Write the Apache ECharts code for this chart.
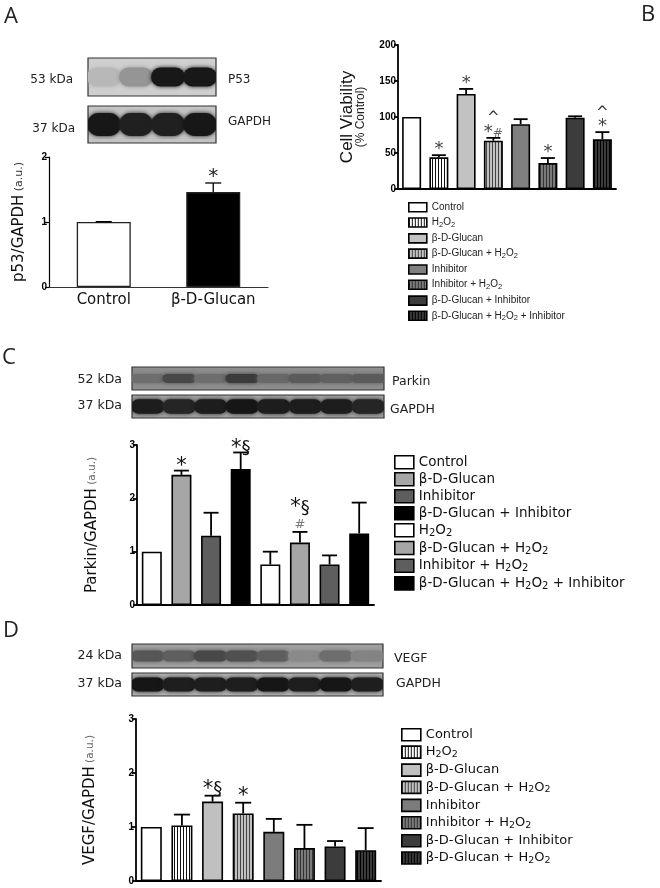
<!DOCTYPE html>
<html>
<head>
<meta charset="utf-8">
<script src="https://cdn.jsdelivr.net/npm/echarts@6/dist/echarts.min.js"></script>
<style>
  html, body { margin: 0; padding: 0; background: #fff; }
  #fig { width: 660px; height: 888px; }
</style>
</head>
<body>
<div id="fig"></div>
<script>
// ---- data ----
// A: p53/GAPDH
const catsA = ['Control', 'β-D-Glucan'];
const meanA = [1.0, 1.46];
const upA = [1.005, 1.6];
const marksA = ['', '*'];
const ticksA = [0, 1, 2];

// B: cell viability (% control)
const namesB = ['Control', 'H2O2', 'β-D-Glucan', 'β-D-Glucan + H2O2', 'Inhibitor',
  'Inhibitor + H2O2', 'β-D-Glucan + Inhibitor', 'β-D-Glucan + H2O2 + Inhibitor'];
const meanB = [100, 44, 132, 67, 90, 36, 99, 69];
const upB = [100, 47, 139, 71, 97, 43, 101, 79];
const marksB = ['', '*', '*', '^\n*#', '', '*', '', '^\n*'];
const ticksB = [0, 50, 100, 150, 200];

// C: Parkin/GAPDH
const namesC = ['Control', 'β-D-Glucan', 'Inhibitor', 'β-D-Glucan + Inhibitor', 'H2O2',
  'β-D-Glucan + H2O2', 'Inhibitor + H2O2', 'β-D-Glucan + H2O2 + Inhibitor'];
const meanC = [1.0, 2.44, 1.3, 2.55, 0.76, 1.17, 0.76, 1.34];
const upC = [1.0, 2.52, 1.73, 2.86, 1.0, 1.37, 0.93, 1.92];
const marksC = ['', '*', '', '*§', '', '*§\n#', '', ''];
const ticksC = [0, 1, 2, 3];

// D: VEGF/GAPDH
const namesD = ['Control', 'H2O2', 'β-D-Glucan', 'β-D-Glucan + H2O2', 'Inhibitor',
  'Inhibitor + H2O2', 'β-D-Glucan + Inhibitor', 'β-D-Glucan + H2O2'];
const meanD = [1.0, 1.03, 1.47, 1.25, 0.91, 0.61, 0.64, 0.57];
const upD = [1.0, 1.23, 1.58, 1.45, 1.15, 1.04, 0.74, 0.98];
const marksD = ['', '', '*§', '*', '', '', '', ''];
const ticksD = [0, 1, 2, 3];

// western blot band intensities per lane (0..1)
const blotP53 = [0.12, 0.3, 0.95, 0.95];
const blotGapdhA = [0.95, 0.9, 0.9, 0.95];
const blotParkin = [0.25, 0.55, 0.25, 0.65, 0.3, 0.4, 0.35, 0.4];
const blotGapdhC = [0.9, 0.85, 0.9, 0.95, 0.9, 0.9, 0.9, 0.85];
const blotVegf = [0.5, 0.45, 0.6, 0.55, 0.45, 0.15, 0.35, 0.2];
const blotGapdhD = [0.95, 0.9, 0.9, 0.9, 0.95, 0.9, 0.95, 0.9];

// ---- styling helpers ----
const SANS = 'DejaVu Sans';
const ARIAL = 'Liberation Sans';

function stripes(bg, line) {
  const c = document.createElement('canvas');
  c.width = 3; c.height = 4;
  const g = c.getContext('2d');
  g.fillStyle = bg; g.fillRect(0, 0, 3, 4);
  g.fillStyle = line || '#111'; g.fillRect(0, 0, 1, 4);
  return { image: c, repeat: 'repeat' };
}

const fillA = ['#ffffff', '#000000'];
const fillB = ['#ffffff', stripes('#ffffff'), '#c2c2c2', stripes('#c2c2c2', '#444'), '#808080',
  stripes('#7a7a7a', '#333'), '#3c3c3c', stripes('#3a3a3a', '#000')];
const fillC = ['#ffffff', '#a6a6a6', '#5e5e5e', '#000000', '#ffffff', '#a6a6a6', '#5e5e5e', '#000000'];
const fillD = ['#ffffff', stripes('#ffffff'), '#c0c0c0', stripes('#c0c0c0', '#444'), '#7c7c7c',
  stripes('#7a7a7a', '#333'), '#3c3c3c', stripes('#3a3a3a', '#000')];

// subscripts for H2O2
function sub(s) {
  return s.split(/(H2O2)/).map(p => p === 'H2O2' ? '{n|H}{s|2}{n|O}{s|2}' : (p ? '{n|' + p + '}' : '')).join('');
}
function markText(s) {
  const key = { '*': 'st', '§': 'sec', '#': 'hash', '^': 'car' };
  return s.split('\n').map(l => l.split('').map(ch => '{' + key[ch] + '|' + ch + '}').join('')).join('\n');
}

const labelOf = {};

// ---- layout ----
const blotBg = [207, 196, 142, 164, 160, 178];
const blotBox = [
  [88, 58, 128, 38], [88, 106, 128, 37],
  [132, 367, 252, 23], [132, 395, 252, 23],
  [132, 644, 251, 24], [132, 673, 251, 23]
];
const grids = [
  { left: 49, top: 157, width: 219, height: 130 },   // A
  { left: 398, top: 45, width: 218, height: 144 },   // B
  { left: 137, top: 445, width: 237, height: 160 },  // C
  { left: 136, top: 719, width: 245, height: 162 }   // D
].concat(blotBox.map((b, k) => ({
  left: b[0], top: b[1], width: b[2], height: b[3], show: true,
  backgroundColor: 'rgb(' + blotBg[k] + ',' + blotBg[k] + ',' + blotBg[k] + ')',
  borderColor: '#333', borderWidth: 1.2
})));
const blots = [blotP53, blotGapdhA, blotParkin, blotGapdhC, blotVegf, blotGapdhD];
const bandFrac = [0.5, 0.62, 0.4, 0.62, 0.45, 0.6];

function catAxis(gi, n, extra) {
  return Object.assign({
    type: 'category', gridIndex: gi, data: Array.from({ length: n }, (_, i) => i),
    axisLine: { lineStyle: { color: '#000', width: 1.8 } },
    axisTick: { show: false }, axisLabel: { show: false }, splitLine: { show: false }
  }, extra || {});
}
function valAxis(gi, ticks, name, gap, rich, lw, fs) {
  return {
    type: 'value', gridIndex: gi, min: ticks[0], max: ticks[ticks.length - 1],
    interval: ticks[1] - ticks[0],
    axisLine: { show: true, lineStyle: { color: '#000', width: lw || 1.8 } },
    axisTick: { show: true, length: 4, lineStyle: { color: '#000', width: lw || 1.5 } },
    axisLabel: { margin: 2, fontFamily: ARIAL, fontWeight: 'bold', fontSize: fs || 10, color: '#000' },
    splitLine: { show: false },
    name: name, nameLocation: 'middle', nameRotate: 90, nameGap: gap,
    nameTextStyle: { rich: rich }
  };
}

const yRichA = { a: { fontFamily: SANS, fontSize: 15, color: '#111' }, b: { fontFamily: SANS, fontSize: 11, color: '#333' } };
const yRichB = {
  a: { fontFamily: ARIAL, fontSize: 17, color: '#111', lineHeight: 16 },
  b: { fontFamily: ARIAL, fontSize: 12, color: '#222', lineHeight: 12 }
};
const yRichCD = { a: { fontFamily: SANS, fontSize: 15, color: '#111' }, b: { fontFamily: SANS, fontSize: 10.5, color: '#666' } };

const xAxes = [
  catAxis(0, 2, {
    data: catsA,
    axisLine: { lineStyle: { color: '#333', width: 1.2 } },
    axisLabel: { show: true, interval: 0, margin: 6, fontFamily: SANS, fontSize: 15, color: '#111' }
  }),
  catAxis(1, 8), catAxis(2, 8), catAxis(3, 8)
];
const yAxes = [
  valAxis(0, ticksA, '{a|p53/GAPDH} {b|(a.u.)}', 22, yRichA, 1.2, 10),
  valAxis(1, ticksB, '{a|Cell Viability}\n{b|(% Control)}', 31, yRichB, 1.8, 10),
  valAxis(2, ticksC, '{a|Parkin/GAPDH} {b|(a.u.)}', 37, yRichCD, 1.8, 10),
  valAxis(3, ticksD, '{a|VEGF/GAPDH} {b|(a.u.)}', 38, yRichCD, 1.8, 10)
];
blots.forEach((lanes, k) => {
  xAxes.push({ type: 'category', gridIndex: 4 + k, show: false, data: lanes.map((_, i) => i) });
  yAxes.push({ type: 'value', gridIndex: 4 + k, show: false, min: 0, max: 1 });
});

const series = [];

// bars
series.push({
  type: 'bar', xAxisIndex: 0, yAxisIndex: 0, barWidth: 54, silent: true,
  data: meanA.map((v, i) => ({ value: v, itemStyle: { color: fillA[i] } })),
  itemStyle: { borderColor: '#222', borderWidth: 1.3 }
});
function groupBars(gi, prefix, names, means, fills, bw) {
  names.forEach((n, i) => {
    labelOf[prefix + i] = n;
    series.push({
      type: 'bar', name: prefix + i, xAxisIndex: gi, yAxisIndex: gi, barWidth: bw, barGap: '-100%',
      silent: true,
      data: means.map((v, j) => (j === i ? v : '-')),
      itemStyle: { color: fills[i], borderColor: '#000', borderWidth: 1.6 }
    });
  });
}
groupBars(1, 'B', namesB, meanB, fillB, 19);
groupBars(2, 'C', namesC, meanC, fillC, 20);
groupBars(3, 'D', namesD, meanD, fillD, 21);

// error bars (upper SEM only)
function errSeries(gi, means, ups, capW, lw) {
  return {
    type: 'custom', xAxisIndex: gi, yAxisIndex: gi, silent: true, z: 3,
    data: means.map((m, i) => [i, m, ups[i]]),
    renderItem(params, api) {
      if (api.value(2) <= api.value(1)) return null;
      const p0 = api.coord([api.value(0), api.value(1)]);
      const p1 = api.coord([api.value(0), api.value(2)]);
      const st = { stroke: '#000', lineWidth: lw };
      return {
        type: 'group', children: [
          { type: 'line', shape: { x1: p0[0], y1: p0[1], x2: p1[0], y2: p1[1] }, style: st },
          { type: 'line', shape: { x1: p1[0] - capW / 2, y1: p1[1], x2: p1[0] + capW / 2, y2: p1[1] }, style: st }
        ]
      };
    }
  };
}
series.push(errSeries(0, meanA, upA, 16, 1.3));
series.push(errSeries(1, meanB, upB, 14, 1.8));
series.push(errSeries(2, meanC, upC, 15, 1.8));
series.push(errSeries(3, meanD, upD, 16, 1.8));

// significance marks
function markSeries(gi, ups, marks, rich, off) {
  return {
    type: 'custom', xAxisIndex: gi, yAxisIndex: gi, silent: true, z: 4,
    data: ups.map((u, i) => [i, u]),
    renderItem(params, api) {
      const m = marks[params.dataIndex];
      if (!m) return null;
      const p = api.coord([api.value(0), api.value(1)]);
      return {
        type: 'text', x: p[0], y: p[1] - off,
        style: { text: markText(m), rich: rich, align: 'center', verticalAlign: 'bottom' }
      };
    }
  };
}
const richA = { st: { fontFamily: SANS, fontSize: 20, lineHeight: 20, fill: '#222' } };
const richB = {
  st: { fontFamily: SANS, fontSize: 18, lineHeight: 15, fill: '#444' },
  hash: { fontFamily: SANS, fontSize: 12, lineHeight: 12, fill: '#666', verticalAlign: 'bottom' },
  car: { fontFamily: SANS, fontSize: 15, lineHeight: 13, fill: '#333' }
};
const richC = {
  st: { fontFamily: SANS, fontSize: 21, lineHeight: 20, fill: '#111' },
  sec: { fontFamily: SANS, fontSize: 18, lineHeight: 20, fill: '#111' },
  hash: { fontFamily: SANS, fontSize: 13, lineHeight: 20, fill: '#777', verticalAlign: 'top' }
};
series.push(markSeries(0, upA, marksA, richA, -4));
series.push(markSeries(1, upB, marksB, richB, -2));
series.push(markSeries(2, upC, marksC, richC, -6));
series.push(markSeries(3, upD, marksD, richC, -4));

// blots: one soft band per lane, shade blended onto the membrane grey
blots.forEach((lanes, k) => {
  const frac = bandFrac[k];
  const bg = blotBg[k];
  series.push({
    type: 'custom', xAxisIndex: 4 + k, yAxisIndex: 4 + k, silent: true, clip: true,
    data: lanes.map((a, i) => [i, a]),
    renderItem(params, api) {
      const c = api.coord([api.value(0), 0.5]);
      const bw = api.size([1, 0])[0];
      const bh = api.size([0, frac])[1];
      const a = api.value(1);
      const g = Math.round(bg * (1 - a) + 14 * a);
      const col = 'rgb(' + g + ',' + g + ',' + g + ')';
      return {
        type: 'rect',
        shape: { x: c[0] - bw * 0.53, y: c[1] - bh / 2, width: bw * 1.06, height: bh, r: bh / 2 },
        style: { fill: col, shadowBlur: 4, shadowColor: col }
      };
    }
  });
});

// legends
function legend(prefix, n, left, top, iw, ih, gap, rich) {
  return {
    orient: 'vertical', left: left, top: top, itemWidth: iw, itemHeight: ih, itemGap: gap,
    icon: 'rect', selectedMode: false,
    data: Array.from({ length: n }, (_, i) => prefix + i),
    formatter: name => sub(labelOf[name]),
    itemStyle: { borderColor: '#000', borderWidth: 1.6 },
    textStyle: { rich: rich }
  };
}
const legRichB = {
  n: { fontFamily: ARIAL, fontSize: 10, lineHeight: 12, color: '#222' },
  s: { fontFamily: ARIAL, fontSize: 7.5, lineHeight: 6, verticalAlign: 'bottom', color: '#222' }
};
const legRichC = {
  n: { fontFamily: SANS, fontSize: 13.5, lineHeight: 16, color: '#111' },
  s: { fontFamily: SANS, fontSize: 10, lineHeight: 8, verticalAlign: 'bottom', color: '#111' }
};
const legRichD = {
  n: { fontFamily: SANS, fontSize: 13, lineHeight: 15, color: '#111' },
  s: { fontFamily: SANS, fontSize: 9.5, lineHeight: 7, verticalAlign: 'bottom', color: '#111' }
};

// blot labels and panel letters
function txt(x, y, s, size, align, font) {
  return { type: 'text', x: x, y: y, style: { text: s, fontSize: size, fontFamily: font || SANS, fill: '#222', align: align || 'left', verticalAlign: 'middle' } };
}
const graphics = [
  txt(4, 17, 'A', 22, 'left', 'Open Sans'),
  txt(641, 15, 'B', 22, 'left', 'Open Sans'),
  txt(2, 358, 'C', 22, 'left', 'Open Sans'),
  txt(3, 631, 'D', 22, 'left', 'Open Sans'),
  txt(73, 80, '53 kDa', 12, 'right'), txt(228, 80, 'P53', 12),
  txt(75, 129, '37 kDa', 12, 'right'), txt(228, 122, 'GAPDH', 12),
  txt(122, 380, '52 kDa', 12.5, 'right'), txt(392, 382, 'Parkin', 12.5),
  txt(122, 406, '37 kDa', 12.5, 'right'), txt(390, 410, 'GAPDH', 12.5),
  txt(122, 656, '24 kDa', 12.5, 'right'), txt(394, 659, 'VEGF', 12.5),
  txt(122, 684, '37 kDa', 12.5, 'right'), txt(396, 684, 'GAPDH', 12.5)
];

const chart = echarts.init(document.getElementById('fig'), null, { renderer: 'canvas' });
chart.setOption({
  backgroundColor: '#fff',
  animation: false,
  grid: grids,
  xAxis: xAxes,
  yAxis: yAxes,
  series: series,
  legend: [
    legend('B', 8, 403, 197, 18, 9, 4.6, legRichB),
    legend('C', 8, 389, 450, 19, 13, 2.4, legRichC),
    legend('D', 8, 396, 723, 19, 12, 3.7, legRichD)
  ],
  graphic: graphics
});
</script>
</body>
</html>
